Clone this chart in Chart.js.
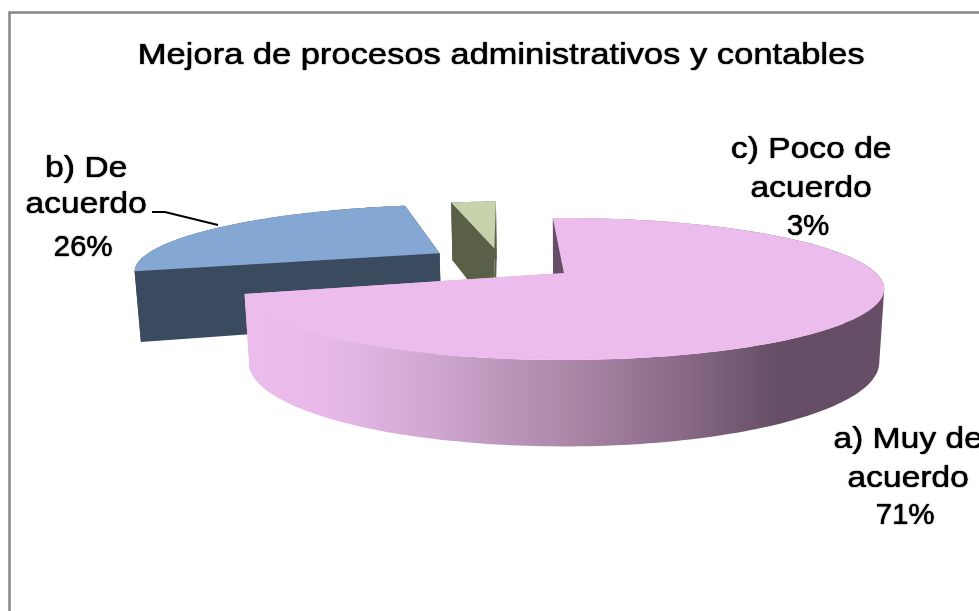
<!DOCTYPE html>
<html><head><meta charset="utf-8">
<style>html,body{margin:0;padding:0;background:#fff}canvas{display:block}</style>
<script src="https://cdn.jsdelivr.net/npm/chart.js@4"></script>
</head><body><canvas id="c" width="979" height="611"></canvas>
<script>
const categories = ["a) Muy de acuerdo", "b) De acuerdo", "c) Poco de acuerdo"];
const values = [71, 26, 3];
const labelLines = [["a) Muy de", "acuerdo"], ["b) De", "acuerdo"], ["c) Poco de", "acuerdo"]];
const topColors = ["#ECBCEC", "#84A7D3", "#C8D2AC"];
const sideColors = ["#664E66", "#3A4A5F", "#5A5F47"];
const titleText = "Mejora de procesos administrativos y contables";

const view = {cx: 564, cy: 273, rx: 312, ry: 67.4, ryLow: 65, k: 0.225, depth: 72, shrink: 0.015};
const explode = [[0, 0], [-0.427, -0.315], [-0.243, -0.395]];
const labelPos = [
  [[908, 448], [908, 487], [905, 524]],
  [[86, 177], [86, 213], [83, 256]],
  [[811, 158], [811, 197], [808, 235]]
];
const FONT_SIZE = 30, STRETCH = 1.15, PCT_STRETCH = 0.98, INK = 0.25;

function top3(u, v) {
  const w = 1 - view.k * v;
  return [view.cx + view.rx * u / w, view.cy + view.ry * v / w];
}
function bot3(u, v) {
  const w = 1 - view.k * v + view.shrink;
  return [view.cx + view.rx * u / w, view.cy + (view.ryLow * v + view.depth) / w];
}
function addPoly(ctx, pts) {
  pts.forEach((p, i) => i ? ctx.lineTo(p[0], p[1]) : ctx.moveTo(p[0], p[1]));
  ctx.closePath();
}
function poly(ctx, pts, fill) {
  ctx.beginPath();
  addPoly(ctx, pts);
  ctx.fillStyle = fill;
  ctx.fill();
}
function area(pts) {
  let s = 0;
  pts.forEach((p, i) => {
    const q = pts[(i + 1) % pts.length];
    s += p[0] * q[1] - q[0] * p[1];
  });
  return s;
}
function softInk(ctx) {
  ctx.shadowColor = "rgba(0,0,0,0.6)";
  ctx.shadowBlur = 1.2;
  ctx.shadowOffsetX = 0;
  ctx.shadowOffsetY = 0;
}
const pie3d = {
  id: "pie3d",
  beforeDraw(chart) {
    const ctx = chart.ctx;
    ctx.save();
    ctx.fillStyle = "#fff";
    ctx.fillRect(0, 0, chart.width, chart.height);
    ctx.strokeStyle = "#868686";
    ctx.lineWidth = 2.5;
    ctx.beginPath();
    ctx.moveTo(9.5, chart.height + 5);
    ctx.lineTo(9.5, 12.5);
    ctx.lineTo(chart.width + 5, 12.5);
    ctx.stroke();
    ctx.restore();
    const t = chart.titleBlock;
    if (t && !t._wrapped) {
      const d = t.draw;
      t._wrapped = true;
      t.draw = function () {
        const cx = 501;
        ctx.save();
        softInk(ctx);
        ctx.translate(cx, 0); ctx.scale(STRETCH, 1); ctx.translate(-cx, 0);
        d.call(t);
        ctx.translate(INK, 0);
        d.call(t);
        ctx.restore();
      };
    }
  },
  beforeDatasetDraw() { return false; },
  afterDatasetsDraw(chart) {
    const ctx = chart.ctx;
    const arcs = chart.getDatasetMeta(0).data;
    const grad = ctx.createLinearGradient(245, 0, 885, 0);
    grad.addColorStop(0, "#ECBCEC");
    grad.addColorStop(0.12, "#E9BAE9");
    grad.addColorStop(0.3, "#CFA6CF");
    grad.addColorStop(0.5, "#AC88A9");
    grad.addColorStop(0.68, "#8A6A88");
    grad.addColorStop(0.83, "#664E66");
    grad.addColorStop(1, "#664E66");
    [1, 2, 0].forEach(i => {
      const a = arcs[i], o = explode[i];
      const n = 200, pts = [];
      for (let s = 0; s <= n; s++) {
        const ang = a.startAngle + (a.endAngle - a.startAngle) * s / n;
        pts.push([Math.cos(ang) + o[0], Math.sin(ang) + o[1]]);
      }
      const first = pts[0], last = pts[n];
      const tc = top3(o[0], o[1]), bc = bot3(o[0], o[1]);
      const side = sideColors[i];
      const wall = i === 0 ? grad : side;
      poly(ctx, [top3(last[0], last[1]), tc, bc, bot3(last[0], last[1])], wall);
      const rim = pts.map(p => top3(p[0], p[1]));
      const low = pts.map(p => bot3(p[0], p[1]));
      ctx.beginPath();
      for (let s = 0; s < n; s++) {
        let q = [rim[s], rim[s + 1], low[s + 1], low[s]];
        if (area(q) < 0) q = q.reverse();
        addPoly(ctx, q);
      }
      ctx.fillStyle = wall;
      ctx.fill("nonzero");
      poly(ctx, [top3(first[0], first[1]), tc, bc, bot3(first[0], first[1])], side);
      poly(ctx, [tc].concat(rim), a.options.backgroundColor);
    });
    const total = values.reduce((x, y) => x + y, 0);
    ctx.save();
    ctx.fillStyle = "#000";
    ctx.font = FONT_SIZE + 'px "Liberation Sans", Arial, sans-serif';
    ctx.textAlign = "center";
    ctx.textBaseline = "alphabetic";
    labelPos.forEach((lp, i) => {
      const lines = labelLines[i].concat([Math.round(values[i] / total * 100) + "%"]);
      lines.forEach((txt, j) => {
        ctx.save();
        softInk(ctx);
        ctx.translate(lp[j][0], lp[j][1]);
        ctx.scale(j === 2 ? PCT_STRETCH : STRETCH - 0.03, 1);
        ctx.fillText(txt, 0, 0);
        ctx.fillText(txt, INK, 0);
        ctx.restore();
      });
    });
    ctx.strokeStyle = "#000";
    ctx.lineWidth = 2;
    ctx.beginPath();
    ctx.moveTo(152, 212); ctx.lineTo(165, 212); ctx.lineTo(218, 225);
    ctx.stroke();
    ctx.restore();
  }
};
new Chart(document.getElementById("c"), {
  type: "pie",
  data: {labels: categories, datasets: [{data: values, backgroundColor: topColors, borderWidth: 0}]},
  options: {
    responsive: false,
    animation: false,
    rotation: -2.5,
    layout: {padding: {left: 23, top: 38}},
    plugins: {
      legend: {display: false},
      tooltip: {enabled: false},
      title: {
        display: true, text: titleText, color: "#000",
        font: {family: '"Liberation Sans", Arial, sans-serif', size: FONT_SIZE, weight: "normal"},
        padding: 0
      }
    }
  },
  plugins: [pie3d]
});
</script></body></html>
